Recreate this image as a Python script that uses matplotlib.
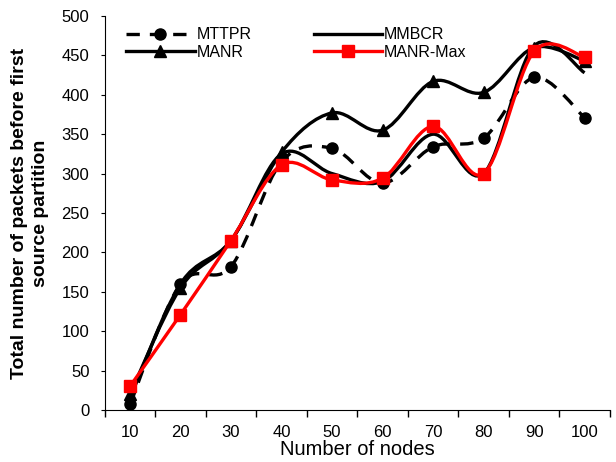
import numpy as np
import matplotlib
matplotlib.use("Agg")
import matplotlib.pyplot as plt
from matplotlib.path import Path
from matplotlib.patches import PathPatch
from matplotlib.lines import Line2D

plt.rcParams['font.family'] = ['Liberation Sans', 'DejaVu Sans']

# Data
nodes = [10, 20, 30, 40, 50, 60, 70, 80, 90, 100]
mttpr = [7, 160, 182, 315, 332, 288, 334, 345, 422, 371]
mmbcr = [15, 160, 215, 325, 300, 290, 350, 300, 462, 428]
manr = [20, 155, 215, 327, 377, 355, 417, 403, 460, 443]
manr_max = [30, 121, 215, 311, 292, 294, 360, 300, 455, 448]


def smooth_path(x, y):
    """Catmull-Rom style bezier path through the points (Excel smoothing)"""
    pts = np.column_stack([x, y]).astype(float)
    verts = [pts[0]]
    codes = [Path.MOVETO]
    n = len(pts)
    for i in range(n - 1):
        p0 = pts[i - 1] if i > 0 else pts[i]
        p1 = pts[i]
        p2 = pts[i + 1]
        p3 = pts[i + 2] if i + 2 < n else pts[i + 1]
        c1 = p1 + (p2 - p0) / 6.0
        c2 = p2 - (p3 - p1) / 6.0
        verts += [c1, c2, p2]
        codes += [Path.CURVE4] * 3
    return Path(verts, codes)


fig = plt.figure(figsize=(6.16, 4.62), dpi=100)
ax = fig.add_axes([0.170, 0.1126, 0.820, 0.8528])

series = [
    (mttpr, 'MTTPR', 'black', (0, (4, 3)), 'o', 8),
    (mmbcr, 'MMBCR', 'black', '-', None, 0),
    (manr, 'MANR', 'black', '-', '^', 8),
    (manr_max, 'MANR-Max', 'red', '-', 's', 9),
]

handles = []
for z, (vals, lab, col, ls, mk, ms) in enumerate(series):
    patch = PathPatch(smooth_path(nodes, vals), facecolor='none',
                      edgecolor=col, lw=2.4, linestyle=ls, zorder=2 + z)
    ax.add_patch(patch)
    if mk:
        ax.plot(nodes, vals, linestyle='none', marker=mk, color=col,
                markersize=ms, zorder=2 + z, clip_on=False)
    handles.append(Line2D([], [], color=col, lw=2.4, linestyle=ls,
                          marker=mk, markersize=ms))

ax.set_xlim(5, 105)
ax.set_ylim(0, 500)
ax.set_yticks(np.arange(0, 501, 50))
ax.set_xticks(nodes)
ax.set_xticks(np.arange(5, 106, 10), minor=True)
ax.tick_params(axis='x', which='major', length=0, pad=11, labelsize=12)
ax.tick_params(axis='x', which='minor', length=5, width=1)
ax.tick_params(axis='y', length=3, width=0.8, labelsize=12, pad=8)
for side in ['top', 'right']:
    ax.spines[side].set_visible(False)

ax.set_xlabel('Number of nodes', fontsize=14.5, labelpad=0)
ax.set_ylabel('Total number of packets before first\nsource partition',
              fontsize=14, fontweight='bold', linespacing=1.3,
              va='center')
ax.yaxis.set_label_coords(-0.148, 0.5)

order = [0, 2, 1, 3]
ax.legend([handles[i] for i in order], [series[i][1] for i in order],
          ncol=2, loc='upper left', bbox_to_anchor=(0.02, 1.0),
          frameon=False, fontsize=11.5, handlelength=4.3, columnspacing=3.9,
          handletextpad=0.1, labelspacing=0.15, borderaxespad=0.3)

fig.savefig('out.png', dpi=100)
